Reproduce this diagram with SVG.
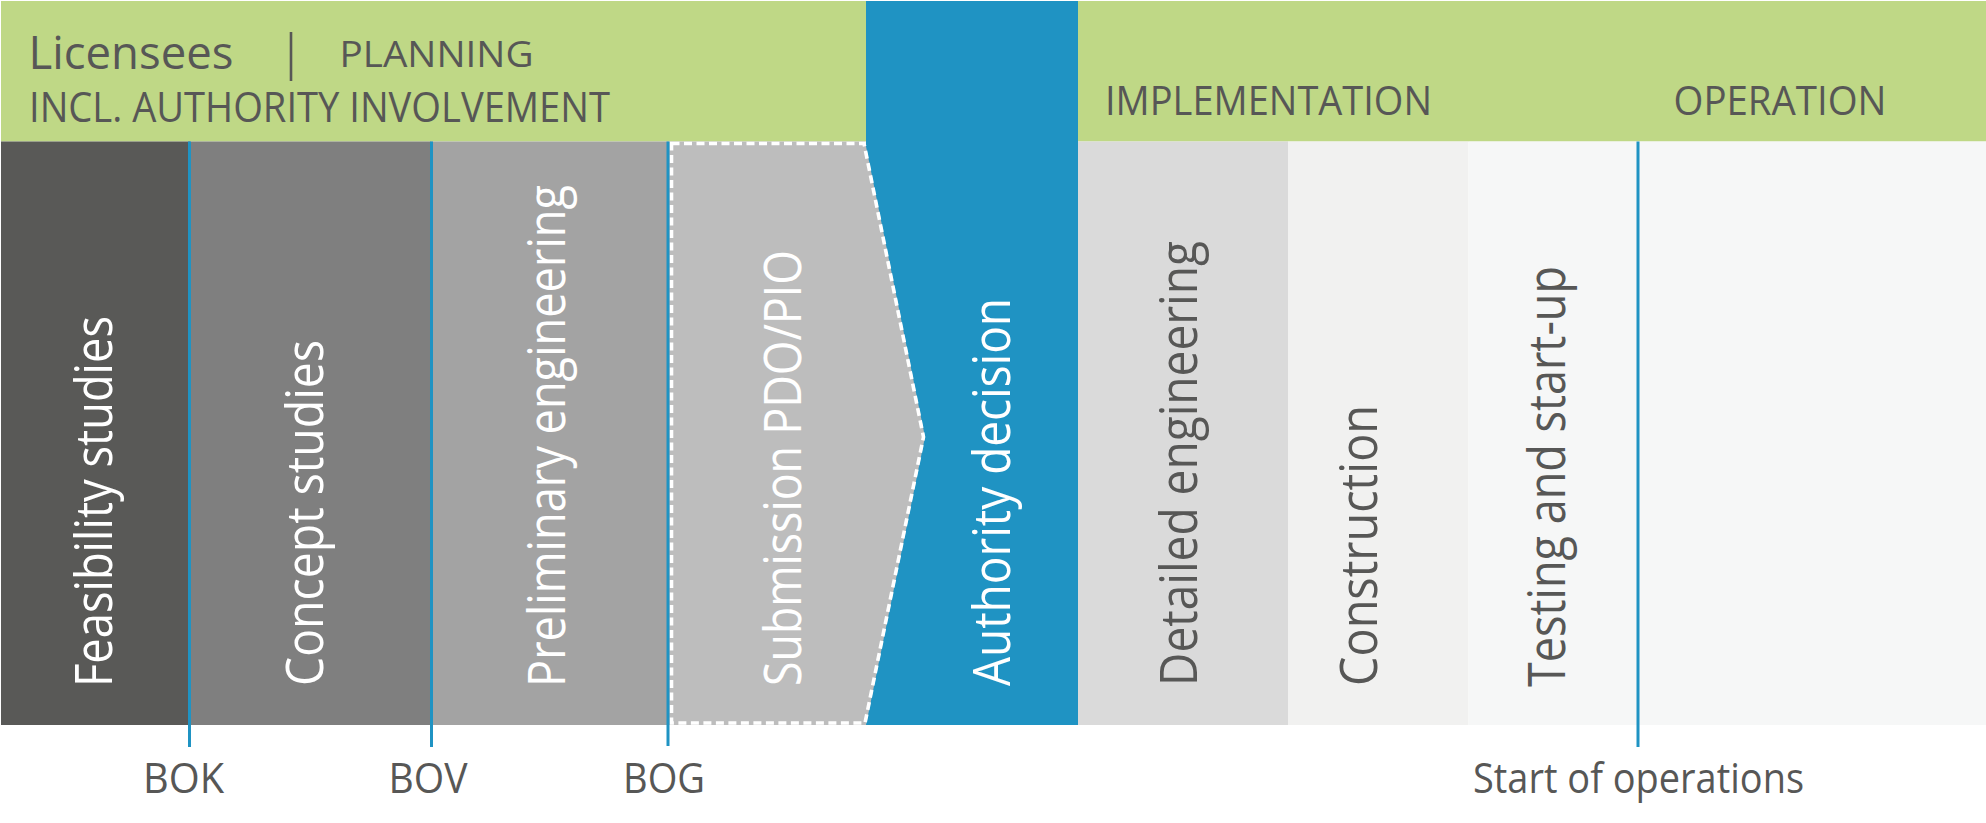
<svg xmlns="http://www.w3.org/2000/svg" width="1986" height="823" viewBox="0 0 1986 823">
  <style>
    .t { font-family: "Open Sans", "Liberation Sans", sans-serif; fill: #575756; }
    .w { font-family: "Open Sans", "Liberation Sans", sans-serif; fill: #ffffff; }
    .vt { font-size: 51px; }
    .ms { stroke: #1f93c3; stroke-width: 3; fill: none; }
  </style>
  <rect x="0" y="0" width="1986" height="823" fill="#ffffff"/>

  <g id="header">
    <rect x="1" y="1" width="1985" height="140.5" fill="#bfd886"/>
    <text class="t" x="28.5" y="68.5" font-size="46" textLength="205" lengthAdjust="spacingAndGlyphs">Licensees</text>
    <line x1="291" y1="32" x2="291" y2="81" stroke="#575756" stroke-width="2.6"/>
    <text class="t" x="339.5" y="67" font-size="37" textLength="194" lengthAdjust="spacingAndGlyphs">PLANNING</text>
    <text class="t" x="29" y="122" font-size="42" textLength="581" lengthAdjust="spacingAndGlyphs">INCL. AUTHORITY INVOLVEMENT</text>
    <text class="t" x="1105" y="115" font-size="40.6" textLength="327" lengthAdjust="spacingAndGlyphs">IMPLEMENTATION</text>
    <text class="t" x="1673.5" y="115" font-size="40.6" textLength="213" lengthAdjust="spacingAndGlyphs">OPERATION</text>
  </g>

  <g id="authority-decision">
    <rect x="866" y="1" width="212" height="724" fill="#1f93c3"/>
    <text class="w vt" transform="translate(1010,686) rotate(-90)" textLength="388" lengthAdjust="spacingAndGlyphs">Authority decision</text>
  </g>

  <g id="feasibility-studies">
    <rect x="1" y="141.5" width="189" height="583.5" fill="#595957"/>
    <text class="w vt" transform="translate(111.7,687) rotate(-90)" textLength="371" lengthAdjust="spacingAndGlyphs">Feasibility studies</text>
  </g>

  <g id="concept-studies">
    <rect x="189.5" y="141.5" width="242" height="583.5" fill="#7f7f7f"/>
    <text class="w vt" transform="translate(323,686) rotate(-90)" textLength="346" lengthAdjust="spacingAndGlyphs">Concept studies</text>
  </g>

  <g id="preliminary-engineering">
    <rect x="431.5" y="141.5" width="237" height="583.5" fill="#a3a3a3"/>
    <text class="w vt" transform="translate(564.5,687) rotate(-90)" textLength="502" lengthAdjust="spacingAndGlyphs">Preliminary engineering</text>
  </g>

  <g id="submission">
    <polygon points="668,141.5 865,141.5 925,437 866,725 668,725" fill="#bdbdbd"/>
    <polygon points="671.5,143.5 864,143.5 923.5,437 865,723 671.5,723" fill="none" stroke="#ffffff" stroke-width="3.6" stroke-dasharray="8,4.5"/>
    <text class="w vt" transform="translate(800.5,686) rotate(-90)" textLength="436" lengthAdjust="spacingAndGlyphs">Submission PDO/PIO</text>
  </g>

  <g id="detailed-engineering">
    <rect x="1078" y="141.5" width="210" height="583.5" fill="#dadada"/>
    <text class="t vt" transform="translate(1196.5,686) rotate(-90)" textLength="445" lengthAdjust="spacingAndGlyphs">Detailed engineering</text>
  </g>

  <g id="construction">
    <rect x="1288" y="141.5" width="180.5" height="583.5" fill="#f1f1f0"/>
    <text class="t vt" transform="translate(1376.5,686) rotate(-90)" textLength="281" lengthAdjust="spacingAndGlyphs">Construction</text>
  </g>

  <g id="testing">
    <rect x="1468.5" y="141.5" width="517.5" height="583.5" fill="#f6f7f7"/>
    <text class="t vt" transform="translate(1565,687) rotate(-90)" textLength="421" lengthAdjust="spacingAndGlyphs">Testing and start-up</text>
  </g>

  <g id="milestones">
    <line class="ms" x1="189.5" y1="141.5" x2="189.5" y2="747"/>
    <line class="ms" x1="431.5" y1="141.5" x2="431.5" y2="747"/>
    <line class="ms" x1="668" y1="141.5" x2="668" y2="746"/>
    <line class="ms" x1="1638" y1="141.5" x2="1638" y2="747"/>
  </g>

  <g id="milestone-labels">
    <text class="t" x="143" y="793" font-size="42" textLength="81" lengthAdjust="spacingAndGlyphs">BOK</text>
    <text class="t" x="388.5" y="793" font-size="42" textLength="79" lengthAdjust="spacingAndGlyphs">BOV</text>
    <text class="t" x="623" y="793" font-size="42" textLength="82" lengthAdjust="spacingAndGlyphs">BOG</text>
    <text class="t" x="1473" y="793" font-size="42" textLength="331" lengthAdjust="spacingAndGlyphs">Start of operations</text>
  </g>
</svg>
